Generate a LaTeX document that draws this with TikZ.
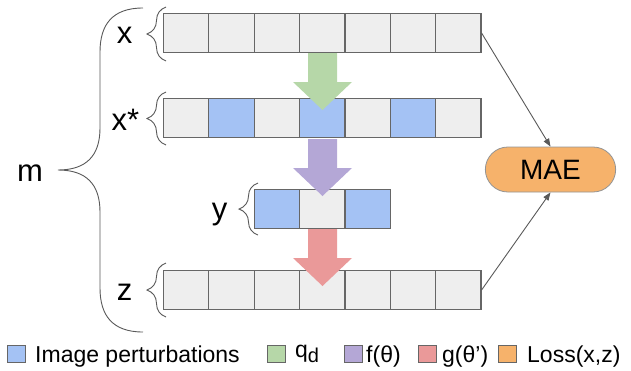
\documentclass[tikz,border=0pt]{standalone}
\usepackage{fontspec}
\setmainfont{Liberation Sans}
\usetikzlibrary{arrows.meta,decorations.pathreplacing,shapes.misc}

\definecolor{cellgray}{HTML}{EEEEEE}
\definecolor{pertblue}{HTML}{A4C2F4}
\definecolor{qgreen}{HTML}{B6D7A8}
\definecolor{fpurple}{HTML}{B4A7D6}
\definecolor{gred}{HTML}{EA9999}
\definecolor{lossorange}{HTML}{F6B26B}
\definecolor{edgegray}{HTML}{666666}
\definecolor{linegray}{HTML}{595959}

% block arrow between two rows: colour, top y
\newcommand{\blockarrow}[2]{%
  \fill[#1] (308,{#2}) -- (337,{#2}) -- (337,{#2+29}) -- (352,{#2+29})
    -- (322.5,{#2+57}) -- (293,{#2+29}) -- (308,{#2+29}) -- cycle;}

\tikzset{
  cell/.style={draw=edgegray, line width=1.2pt, fill=cellgray,
    minimum width=45.35pt, minimum height=38.5pt, inner sep=0pt},
  rowbrace/.style={draw=linegray, line width=0.9pt,
    decorate, decoration={brace, amplitude=19pt}},
  lbl/.style={anchor=base, inner sep=0pt, font=\fontsize{31}{36}\selectfont},
  lossbox/.style={rounded rectangle, draw=edgegray!70, line width=0.8pt,
    fill=lossorange, minimum width=137pt, minimum height=45pt,
    font=\fontsize{28}{34}\selectfont},
  conn/.style={draw=linegray, line width=0.9pt, -{Triangle[length=8pt,width=6pt]}},
  legbox/.style={draw=edgegray, line width=0.9pt, minimum width=18pt,
    minimum height=17pt, inner sep=0pt},
  legtext/.style={anchor=base west, inner sep=0pt, font=\fontsize{23}{27}\selectfont}
}

\begin{document}
\begin{tikzpicture}[x=1pt,y=-1pt]
\useasboundingbox (0,0) rectangle (631,370);

% rows
\foreach \i in {1,...,7}
  \node[cell] (x\i) at ({186.2+(\i-1)*45.35},33) {};
\foreach \i/\c in {1/cellgray,2/pertblue,3/cellgray,4/pertblue,5/cellgray,6/pertblue,7/cellgray}
  \node[cell,fill=\c] (xs\i) at ({186.2+(\i-1)*45.35},118) {};
\foreach \i/\c in {3/pertblue,4/cellgray,5/pertblue}
  \node[cell,fill=\c] (y\i) at ({186.2+(\i-1)*45.35},209) {};
\foreach \i in {1,...,7}
  \node[cell] (z\i) at ({186.2+(\i-1)*45.35},290) {};

% arrows between rows
\blockarrow{qgreen}{53}
\blockarrow{fpurple}{139}
\blockarrow{gred}{229}

% braces
\draw[rowbrace] (166,61) -- (166,7);
\draw[rowbrace] (166,145) -- (166,92);
\draw[rowbrace] (258,235) -- (258,183);
\draw[rowbrace] (166,317) -- (166,263);
\draw[draw=linegray, line width=0.9pt] (143,8) .. controls (112,8) and (100,25) .. (100,52)
  -- (100,128) .. controls (100,156) and (86,170) .. (58,170)
  .. controls (86,170) and (100,184) .. (100,212)
  -- (100,288) .. controls (100,315) and (112,332) .. (143,332);

% labels
\node[lbl] (lx) at (124.5,43) {x};
\node[lbl] (lxs) at (125.5,130) {x*};
\node[lbl] (ly) at (219.5,219) {y};
\node[lbl] (lz) at (124.5,300) {z};
\node[lbl] (lm) at (30,181) {m};

% loss
\node[lossbox] (mae) at (550.5,169.5) {MAE};
\draw[conn] (x7.east) -- (mae.north);
\draw[conn] (z7.east) -- (mae.south);

% legend
\node[legbox, fill=pertblue] (lblue) at (16,354) {};
\node[legtext] (tblue) at (35,362) {Image perturbations};
\node[legbox, fill=qgreen] (lgreen) at (276,354) {};
\node[legtext] (tgreen) at (295,357) {q\raisebox{-5pt}{\fontsize{20}{20}\selectfont d}};
\node[legbox, fill=fpurple] (lpurple) at (353,354) {};
\node[legtext] (tpurple) at (366,362) {f(θ)};
\node[legbox, fill=gred] (lred) at (427,354) {};
\node[legtext] (tred) at (442,362) {g(θ’)};
\node[legbox, fill=lossorange] (lorange) at (507,354) {};
\node[legtext] (torange) at (527,362) {Loss(x,z)};
\end{tikzpicture}
\end{document}
